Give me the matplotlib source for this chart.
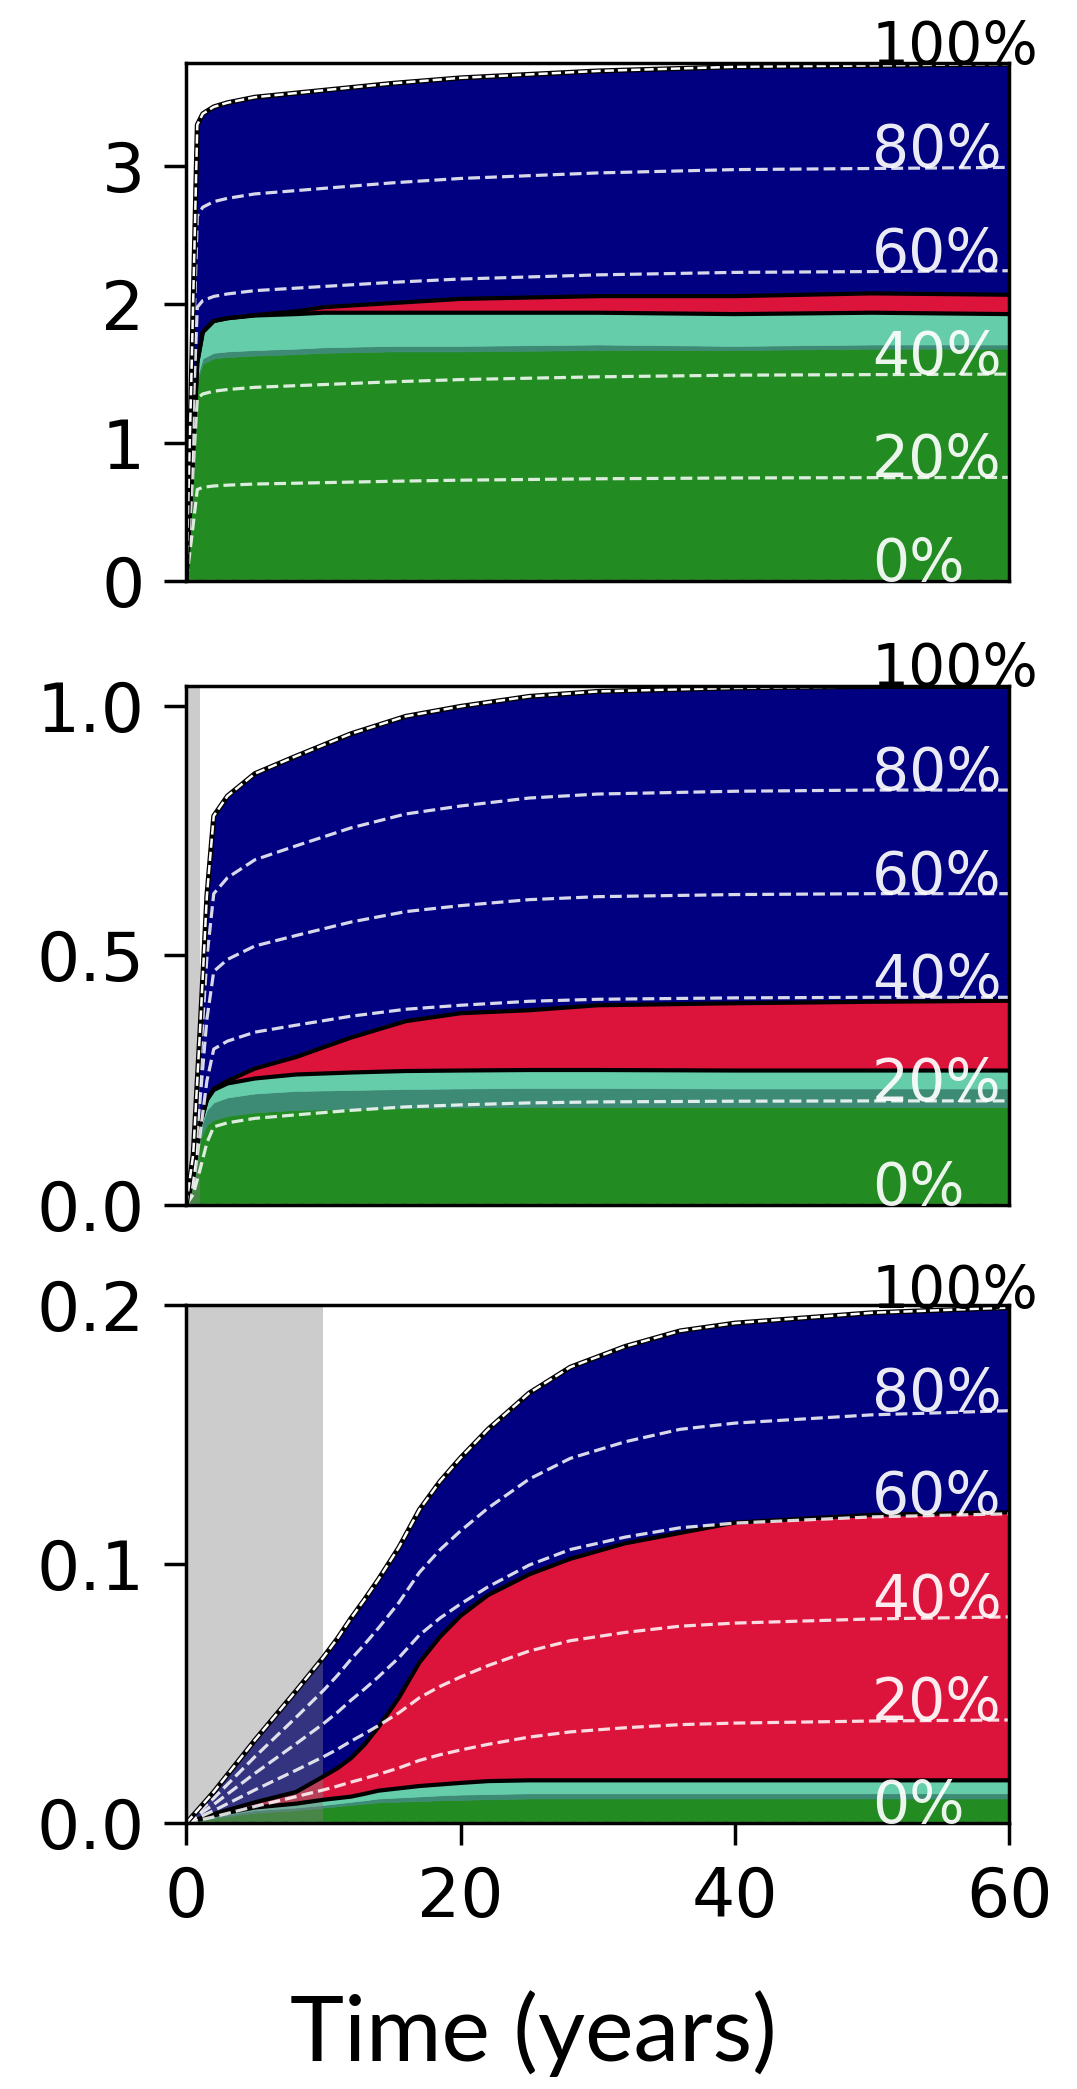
import numpy as np
import matplotlib.pyplot as plt

# layer thicknesses, bottom to top:
# green, dark teal, aquamarine, red, navy

# top panel
t1 = [0, 0.4, 0.8, 1.2, 2, 3, 5, 8, 10, 15, 20, 30, 40, 50, 60]
green1 = [0, 0.70, 1.45, 1.57, 1.61, 1.62, 1.63, 1.64, 1.65, 1.66, 1.66, 1.67, 1.67, 1.68, 1.68]
dark1 = [0, 0.01, 0.03, 0.04, 0.04, 0.04, 0.04, 0.04, 0.04, 0.04, 0.04, 0.04, 0.03, 0.03, 0.03]
aqua1 = [0, 0.02, 0.10, 0.19, 0.23, 0.24, 0.25, 0.25, 0.25, 0.24, 0.24, 0.23, 0.23, 0.23, 0.22]
red1 = [0, 0, 0, 0, 0, 0, 0.003, 0.02, 0.04, 0.07, 0.10, 0.12, 0.13, 0.14, 0.14]
navy1 = [0, 0.87, 1.72, 1.58, 1.55, 1.56, 1.577, 1.58, 1.57, 1.59, 1.60, 1.63, 1.66, 1.65, 1.67]

# middle panel
t2 = [0, 0.5, 1, 1.5, 2, 3, 5, 8, 12, 16, 20, 25, 30, 40, 50, 60]
green2 = [0, 0.04, 0.13, 0.16, 0.17, 0.178, 0.185, 0.19, 0.192, 0.194, 0.195, 0.196, 0.196, 0.196, 0.196, 0.196]
dark2 = [0, 0.01, 0.02, 0.03, 0.035, 0.037, 0.038, 0.038, 0.038, 0.038, 0.038, 0.038, 0.038, 0.037, 0.037, 0.037]
aqua2 = [0, 0.005, 0.01, 0.02, 0.025, 0.028, 0.030, 0.033, 0.035, 0.036, 0.036, 0.036, 0.036, 0.036, 0.036, 0.036]
red2 = [0, 0, 0, 0, 0.002, 0.005, 0.02, 0.035, 0.07, 0.10, 0.115, 0.12, 0.13, 0.135, 0.138, 0.14]
navy2 = [0, 0.045, 0.19, 0.41, 0.548, 0.572, 0.592, 0.604, 0.61, 0.612, 0.616, 0.63, 0.63, 0.633, 0.633, 0.631]

# bottom panel
t3 = [0, 2, 5, 8, 10, 11, 12, 13, 14, 15.5, 17, 18.5, 20, 22, 25, 28, 32, 36, 40, 50, 60]
green3 = [0, 0.002, 0.004, 0.005, 0.006, 0.0065, 0.007, 0.0075, 0.008, 0.0083, 0.0085, 0.0088, 0.009, 0.0092, 0.0095,
          0.0095, 0.0095, 0.0095, 0.0095, 0.0095, 0.0095]
dark3 = [0, 0.0005, 0.001, 0.001, 0.001, 0.0011, 0.0012, 0.0013, 0.0015, 0.0016, 0.0018, 0.0019, 0.002, 0.002, 0.002,
         0.002, 0.002, 0.002, 0.002, 0.002, 0.002]
aqua3 = [0, 0.0005, 0.001, 0.0015, 0.002, 0.002, 0.002, 0.0025, 0.003, 0.0035, 0.004, 0.0042, 0.0045, 0.005, 0.005,
         0.005, 0.005, 0.005, 0.005, 0.005, 0.005]
red3 = [0, 0.0005, 0.002, 0.0045, 0.009, 0.0115, 0.0148, 0.019, 0.0245, 0.035, 0.0477, 0.057, 0.0645, 0.0718, 0.0795,
        0.0855, 0.0915, 0.0955, 0.0995, 0.1025, 0.1035]
navy3 = [0, 0.0085, 0.024, 0.039, 0.046, 0.050, 0.054, 0.056, 0.057, 0.058, 0.059, 0.060, 0.061, 0.064, 0.070,
         0.074, 0.076, 0.078, 0.077, 0.078, 0.079]

percents = [0, 20, 40, 60, 80]
colors = ['#228B22', '#3d8a75', '#66CDAA', '#DC143C', '#000080']


def draw(ax, t, layers, span, ylim, yticks):
    layers = np.array(layers)
    ax.stackplot(t, layers, colors=colors, linewidth=0.5, edgecolor='face')
    cum = np.cumsum(layers, axis=0)
    total = cum[-1]
    # black outline of the red band
    ax.plot(t, cum[2], color='black', lw=3.0)
    ax.plot(t, cum[3], color='black', lw=3.0)
    ax.axvspan(0, span, color='grey', alpha=0.4, lw=0)
    for p in percents:
        ax.plot(t, total * p / 100, color='white', ls='--', lw=2.3, alpha=0.85)
        ax.text(50, total[-1] * p / 100, f'{p}%', color='white', alpha=0.92,
                fontsize=42, va='baseline', ha='left')
    ax.plot(t, total, color='black', lw=3.6)
    ax.plot(t, total, color='white', ls='--', lw=1.8)
    ax.text(50, total[-1], '100%', color='black', fontsize=42,
            va='baseline', ha='left', clip_on=False)
    ax.set_xlim(0, 60)
    ax.set_ylim(*ylim)
    ax.set_yticks(yticks)
    for s in ax.spines.values():
        s.set_linewidth(2.5)
    ax.tick_params(labelsize=49, length=16, width=2.5, pad=14)


fig = plt.figure(figsize=(10.77, 20.89), dpi=100)
ax1 = fig.add_axes([0.173, 0.722, 0.764, 0.248])
ax2 = fig.add_axes([0.173, 0.4234, 0.764, 0.248])
ax3 = fig.add_axes([0.173, 0.1273, 0.764, 0.248])

draw(ax1, t1, [green1, dark1, aqua1, red1, navy1], 0.1, (0, 3.75), [0, 1, 2, 3])
draw(ax2, t2, [green2, dark2, aqua2, red2, navy2], 1.0, (0, 1.04), [0.0, 0.5, 1.0])
draw(ax3, t3, [green3, dark3, aqua3, red3, navy3], 10, (0, 0.2), [0.0, 0.1, 0.2])

for ax in (ax1, ax2):
    ax.tick_params(axis='x', bottom=False, labelbottom=False)
ax3.set_xticks([0, 20, 40, 60])

fig.text(0.495, 0.0135, 'Time (years)', fontsize=66, family='Lato',
         ha='center', va='baseline')

fig.savefig('out.png', dpi=100)
